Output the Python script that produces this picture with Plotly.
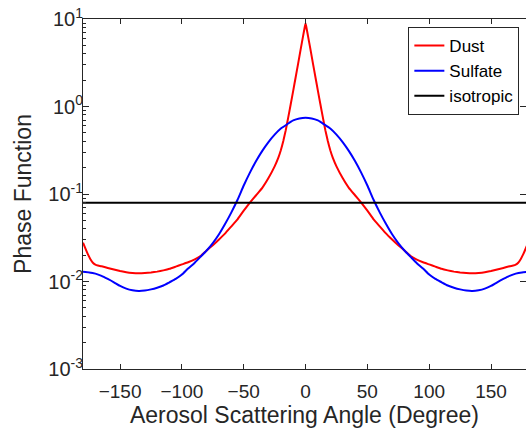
import plotly.graph_objects as go
import numpy as np

# Scattering angle (degrees)
dust_angles = [-180, -178, -176, -174, -172, -170, -168, -165, -160, -155, -150, -145, -140, -135, -130,
               -125, -120, -115, -110, -105, -100, -95, -90, -85, -80, -75, -70, -65, -60, -55, -50,
               -45, -40, -35, -30, -25, -22, -20, -18, -16, -14, -12, -10, -8, -6, -4, -2, -1, 0,
               1, 2, 4, 6, 8, 10, 12, 14, 16, 18, 20, 22, 25, 30, 35, 40, 45,
               50, 55, 60, 65, 70, 75, 80, 85, 90, 95, 100, 105, 110, 115, 120, 125,
               130, 135, 140, 145, 150, 155, 160, 165, 168, 170, 172, 174, 176, 178, 180]

dust = [0.0278, 0.0237, 0.0204, 0.0180, 0.0164, 0.01556, 0.01521, 0.01496, 0.01429, 0.01374, 0.01318,
        0.01279, 0.01253, 0.01242, 0.01250, 0.01268, 0.01297, 0.01340, 0.01396, 0.01479, 0.01567,
        0.0166, 0.0178, 0.0195, 0.0226, 0.0260, 0.0302, 0.0355, 0.0427, 0.0513, 0.0646,
        0.0796, 0.0968, 0.1175, 0.152, 0.2065, 0.260, 0.316, 0.403, 0.537, 0.750, 1.06, 1.51, 2.16,
        3.09, 4.47, 6.38, 7.59, 9.0,
        7.59, 6.38, 4.47, 3.09, 2.16, 1.51, 1.06, 0.750, 0.537, 0.403, 0.316, 0.260, 0.2065, 0.152,
        0.1175, 0.0968, 0.0796,
        0.0646, 0.0513, 0.0427, 0.0355, 0.0302, 0.0260, 0.0226, 0.0195, 0.0178, 0.0166, 0.01567,
        0.01479, 0.01396, 0.01340, 0.01297, 0.01268,
        0.01250, 0.01242, 0.01253, 0.01279, 0.01318, 0.01374, 0.01429, 0.01496, 0.01521, 0.01556,
        0.0164, 0.0180, 0.0204, 0.0237, 0.0278]

sulfate_angles = [-180, -175, -170, -165, -160, -155, -150, -145, -140, -135, -130, -125, -120, -115,
                  -110, -105, -100, -95, -90, -85, -80, -75, -70, -65, -60, -55, -50, -45, -40, -35,
                  -30, -25, -20, -15, -10, -5, 0, 5, 10, 15, 20, 25, 30, 35, 40, 45, 50, 55, 60,
                  65, 70, 75, 80, 85, 90, 95, 100, 105, 110, 115, 120, 125, 130, 135, 140, 145,
                  150, 155, 160, 165, 170, 175, 180]

sulfate = [0.0129, 0.0127, 0.0123, 0.0116, 0.0107, 0.0098, 0.0089, 0.0083, 0.00794, 0.00778,
           0.00787, 0.00813, 0.0085, 0.0090, 0.0098, 0.0107, 0.0120, 0.0141, 0.0162, 0.0191,
           0.0226, 0.0275, 0.0347, 0.0457, 0.0617, 0.0859, 0.125, 0.1755, 0.238, 0.311, 0.392,
           0.477, 0.560, 0.625, 0.693, 0.731, 0.745, 0.731, 0.693, 0.625, 0.560, 0.477, 0.392,
           0.311, 0.238, 0.1755, 0.125, 0.0859, 0.0617, 0.0457, 0.0347, 0.0275, 0.0226, 0.0191,
           0.0162, 0.0141, 0.0120, 0.0107, 0.0098, 0.0090, 0.0085, 0.00813, 0.00787, 0.00778,
           0.00794, 0.0083, 0.0089, 0.0098, 0.0107, 0.0116, 0.0123, 0.0127, 0.0129]

iso_x = [-180, 180]
iso_y = [1 / (4 * np.pi), 1 / (4 * np.pi)]

x_ticks = [-150, -100, -50, 0, 50, 100, 150]
y_ticks = [1e-3, 1e-2, 1e-1, 1e0, 1e1]
y_ticktext = ["10<sup>-3</sup>", "10<sup>-2</sup>", "10<sup>-1</sup>", "10<sup>0</sup>", "10<sup>1</sup>"]
y_minor = [k * 10.0 ** d for d in range(-3, 1) for k in range(2, 10)]

FONT = "Liberation Sans, Arial, sans-serif"
AX = "#262626"

fig = go.Figure()
fig.add_trace(go.Scatter(x=dust_angles, y=dust, mode="lines", name="Dust",
                         line=dict(color="#ff0000", width=2, shape="spline", smoothing=0.3)))
fig.add_trace(go.Scatter(x=sulfate_angles, y=sulfate, mode="lines", name="Sulfate",
                         line=dict(color="#0000ff", width=2, shape="spline", smoothing=0.5)))
fig.add_trace(go.Scatter(x=iso_x, y=iso_y, mode="lines", name="isotropic",
                         line=dict(color="#000000", width=2)))
fig.add_trace(go.Scatter(x=[], y=[], yaxis="y2", showlegend=False, hoverinfo="skip"))

fig.update_layout(
    width=526, height=429,
    margin=dict(l=83, r=0, t=19, b=60),
    paper_bgcolor="white", plot_bgcolor="white",
    font=dict(family=FONT, size=19, color=AX),
    showlegend=True,
    legend=dict(x=0.985, y=0.977, xanchor="right", yanchor="top",
                bgcolor="white", bordercolor=AX, borderwidth=1,
                font=dict(size=17, color="#000000"), tracegroupgap=0),
    xaxis=dict(range=[-180, 178.3], tickvals=x_ticks, ticks="inside", ticklen=5,
               tickcolor=AX, showline=True, linecolor=AX, linewidth=1, mirror="ticks",
               showgrid=False, zeroline=False, tickfont=dict(size=19, color=AX),
               ticklabelstandoff=5,
               title=dict(text="Aerosol Scattering Angle (Degree)", font=dict(size=23, color=AX),
                          standoff=3)),
    yaxis=dict(type="log", range=[-3, 1], tickvals=y_ticks, ticktext=y_ticktext,
               ticks="inside", ticklen=6, tickcolor=AX, showline=True, linecolor=AX,
               linewidth=1, mirror="ticks", showgrid=False, zeroline=False,
               tickfont=dict(size=20, color=AX), ticklabelstandoff=-5,
               title=dict(text="Phase Function", font=dict(size=23, color=AX), standoff=10)),
    yaxis2=dict(type="log", range=[-3, 1], overlaying="y", side="left", tickvals=y_minor,
                ticks="inside", ticklen=3, tickcolor=AX, showticklabels=False,
                showline=False, showgrid=False, zeroline=False),
)

fig.write_html("out.html")
